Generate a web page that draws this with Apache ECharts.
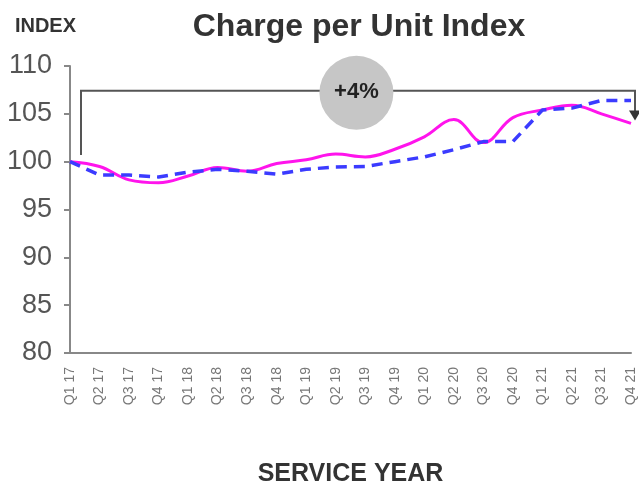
<!DOCTYPE html>
<html>
<head>
<meta charset="utf-8">
<script src="https://cdn.jsdelivr.net/npm/echarts@6/dist/echarts.min.js"></script>
<style>
html, body { margin: 0; padding: 0; background: #fff; }
#main { width: 639px; height: 489px; }
</style>
</head>
<body>
<div id="main"></div>
<script>
// 数据
var quarters = ['Q1 17', 'Q2 17', 'Q3 17', 'Q4 17', 'Q1 18', 'Q2 18', 'Q3 18', 'Q4 18',
    'Q1 19', 'Q2 19', 'Q3 19', 'Q4 19', 'Q1 20', 'Q2 20', 'Q3 20', 'Q4 20',
    'Q1 21', 'Q2 21', 'Q3 21', 'Q4 21'];
var chargeIndex = [100, 99.5, 98.1, 97.8, 98.5, 99.4, 99.0, 99.8, 100.2, 100.8, 100.5, 101.3,
    102.6, 104.4, 102.0, 104.6, 105.4, 105.9, 105.0, 104.0];
var trendIndex = [100, 98.6, 98.6, 98.4, 98.9, 99.2, 99.0, 98.7, 99.2, 99.45, 99.5, 100.0,
    100.5, 101.25, 102.1, 102.1, 105.4, 105.6, 106.4, 106.4];
var yTicks = [80, 85, 90, 95, 100, 105, 110];
var changeLabel = '+4%';

var myChart = echarts.init(document.getElementById('main'));
var font = 'Liberation Sans, Arial, sans-serif';

var option = {
    animation: false,
    grid: { left: 70, right: 8, top: 66, bottom: 136, outerBoundsMode: 'none' },
    title: {
        text: 'Charge per Unit Index',
        left: 354, top: 6, textAlign: 'center',
        textStyle: { fontFamily: font, fontSize: 32, fontWeight: 'bold', color: '#333' }
    },
    xAxis: {
        type: 'category',
        data: quarters,
        boundaryGap: false,
        name: 'SERVICE YEAR',
        nameLocation: 'middle',
        nameGap: 109,
        nameTextStyle: { fontFamily: font, fontSize: 25, fontWeight: 'bold', color: '#333' },
        axisLine: { lineStyle: { color: '#888', width: 2 } },
        axisTick: { show: false },
        axisLabel: { rotate: 90, margin: 14, fontFamily: font, fontSize: 14, color: '#777' }
    },
    yAxis: {
        type: 'value',
        min: yTicks[0], max: yTicks[yTicks.length - 1], interval: 5,
        name: 'INDEX',
        nameLocation: 'end',
        nameGap: 30,
        nameTextStyle: { fontFamily: font, fontSize: 20, fontWeight: 'bold', color: '#333', align: 'right', padding: [0, -6, 0, 0] },
        splitLine: { show: false },
        axisLine: { show: true, lineStyle: { color: '#888', width: 2 } },
        axisTick: { show: true, length: 6, lineStyle: { color: '#888', width: 2 } },
        axisLabel: { margin: 18, fontFamily: font, fontSize: 27, color: '#555' }
    },
    series: [
        {
            type: 'line', data: trendIndex, symbol: 'none', z: 3,
            lineStyle: { color: '#3b3bff', width: 3.5, type: [11, 7] }
        },
        {
            type: 'line', data: chargeIndex, symbol: 'none', smooth: 0.4, z: 2,
            lineStyle: { color: '#ff14ec', width: 3 }
        }
    ]
};
myChart.setOption(option);

// 标注 (+4% bracket), positions from the axes
function px(i, v) { return myChart.convertToPixel({ gridIndex: 0 }, [i, v]); }
var barY = px(0, 107.4)[1];
var leftX = px(0, 100)[0] + 11;
var leftBottom = px(0, 100.7)[1];
var rightX = px(19, 100)[0] + 4;
var arrowTip = px(19, 104.3)[1];
var step = px(1, 100)[0] - px(0, 100)[0];
var midX = px(9, 100)[0] + 0.7 * step;
myChart.setOption({
    graphic: [
        { type: 'polyline', shape: { points: [[leftX, leftBottom], [leftX, barY], [rightX, barY], [rightX, arrowTip - 8]] }, style: { stroke: '#555', lineWidth: 2, fill: null }, z: 10 },
        { type: 'polygon', shape: { points: [[rightX - 6, arrowTip - 10], [rightX + 6, arrowTip - 10], [rightX, arrowTip]] }, style: { fill: '#333' }, z: 10 },
        { type: 'circle', shape: { cx: midX, cy: barY + 2, r: 37 }, style: { fill: '#c6c6c6' }, z: 11 },
        { type: 'text', x: midX, y: barY + 1, style: { text: changeLabel, fontFamily: font, fontSize: 22, fontWeight: 'bold', fill: '#222', align: 'center', verticalAlign: 'middle' }, z: 12 }
    ]
});
</script>
</body>
</html>
